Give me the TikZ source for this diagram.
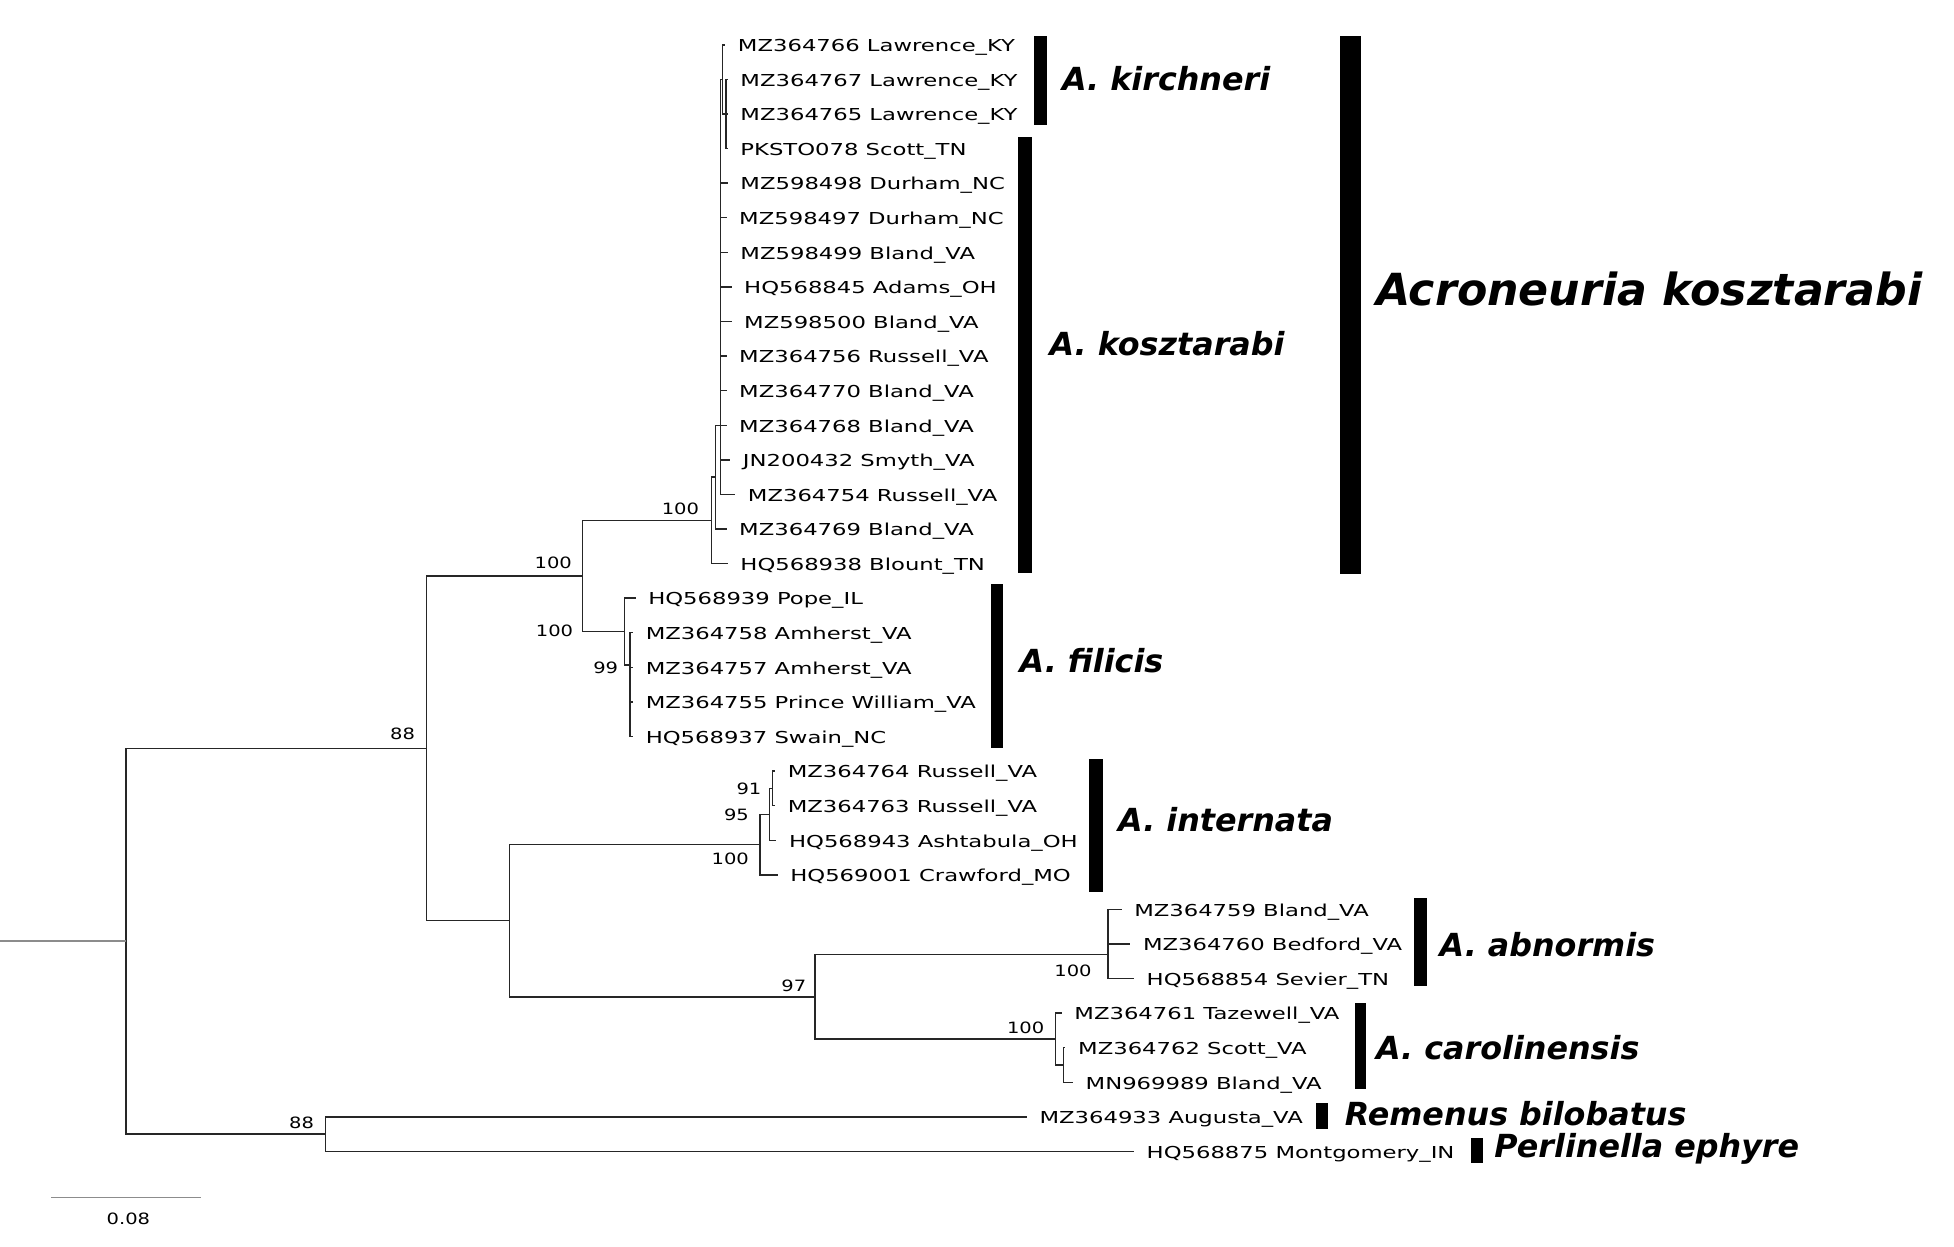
\documentclass[tikz,border=0pt]{standalone}
\usepackage{fontspec}
\setmainfont{DejaVu Sans}
\newfontfamily\leaffont[FakeStretch=1.38]{DejaVu Sans}
\newfontfamily\bootfont[FakeStretch=1.25]{DejaVu Sans}
\begin{document}
\begin{tikzpicture}[x=1pt,y=-1pt,
  branch/.style={draw=black!85,line width=1.1pt},
  greyline/.style={draw=black!45,line width=1.3pt},
  leaf/.style={anchor=west,inner sep=0pt,xshift=10pt,yshift=-2pt,font=\leaffont\fontsize{13.2}{13.2}\selectfont},
  boot/.style={inner sep=0pt,font=\bootfont\fontsize{12.5}{12.5}\selectfont},
  cladebar/.style={fill=black},
  clade/.style={anchor=west,inner sep=0pt,font=\bfseries\itshape\fontsize{25.5}{25.5}\selectfont},
  bigclade/.style={anchor=west,inner sep=0pt,font=\bfseries\itshape\fontsize{35.5}{35.5}\selectfont}]
\useasboundingbox (0,0) rectangle (1568,1000);

% leaves
\foreach \i/\x/\t in {
 0/582/{MZ364766 Lawrence\_KY},
 1/584/{MZ364767 Lawrence\_KY},
 2/584/{MZ364765 Lawrence\_KY},
 3/584/{PKSTO078 Scott\_TN},
 4/584/{MZ598498 Durham\_NC},
 5/583/{MZ598497 Durham\_NC},
 6/584/{MZ598499 Bland\_VA},
 7/587/{HQ568845 Adams\_OH},
 8/587/{MZ598500 Bland\_VA},
 9/583/{MZ364756 Russell\_VA},
 10/583/{MZ364770 Bland\_VA},
 11/583/{MZ364768 Bland\_VA},
 12/586/{JN200432 Smyth\_VA},
 13/590/{MZ364754 Russell\_VA},
 14/583/{MZ364769 Bland\_VA},
 15/584/{HQ568938 Blount\_TN},
 16/510/{HQ568939 Pope\_IL},
 17/508/{MZ364758 Amherst\_VA},
 18/508/{MZ364757 Amherst\_VA},
 19/508/{MZ364755 Prince William\_VA},
 20/508/{HQ568937 Swain\_NC},
 21/622/{MZ364764 Russell\_VA},
 22/622/{MZ364763 Russell\_VA},
 23/623/{HQ568943 Ashtabula\_OH},
 24/624/{HQ569001 Crawford\_MO},
 25/900/{MZ364759 Bland\_VA},
 26/907/{MZ364760 Bedford\_VA},
 27/910/{HQ568854 Sevier\_TN},
 28/852/{MZ364761 Tazewell\_VA},
 29/855/{MZ364762 Scott\_VA},
 30/861/{MN969989 Bland\_VA},
 31/824/{MZ364933 Augusta\_VA},
 32/910/{HQ568875 Montgomery\_IN}}{
  \coordinate (t\i) at (\x,{36+27.75*\i});
  \node[leaf] (l\i) at (t\i) {\t};
}

% internal nodes
\coordinate (kA) at (582.5,91.5);
\coordinate (kB) at (580,63.75);
\coordinate (K3) at (578,341.25);
\coordinate (K2) at (574,382.9);
\coordinate (K1) at (571,417.6);
\coordinate (F99) at (505.5,533.6);
\coordinate (Fil) at (501,506.8);
\coordinate (N467) at (467.6,462.2);
\coordinate (I91) at (620,632.6);
\coordinate (I95) at (617.5,653.4);
\coordinate (I100) at (610,677.7);
\coordinate (Abn) at (889,766);
\coordinate (C99) at (853.5,854.6);
\coordinate (Car) at (847,833.8);
\coordinate (N97) at (654,799.9);
\coordinate (N409) at (409,738.8);
\coordinate (N342) at (342,600.5);
\coordinate (N261) at (261,910.1);
\coordinate (Root) at (101,755.3);
\coordinate (Stub) at (0,755.3);

% branches
\draw[branch] (kA) |- (t1) (kA) |- (t2) (kA) |- (t3);
\draw[branch] (kB) |- (t0) (kB) |- (kA);
\draw[branch] (K3) |- (kB);
\foreach \i in {4,...,13}{\draw[branch] (K3) |- (t\i);}
\draw[branch] (K2) |- (K3) (K2) |- (t14);
\draw[branch] (K1) |- (K2) (K1) |- (t15);
\draw[branch] (F99) |- (t17) (F99) |- (t18) (F99) |- (t19) (F99) |- (t20);
\draw[branch] (Fil) |- (t16) (Fil) |- (F99);
\draw[branch] (N467) |- (K1) (N467) |- (Fil);
\draw[branch] (I91) |- (t21) (I91) |- (t22);
\draw[branch] (I95) |- (I91) (I95) |- (t23);
\draw[branch] (I100) |- (I95) (I100) |- (t24);
\draw[branch] (Abn) |- (t25) (Abn) |- (t26) (Abn) |- (t27);
\draw[branch] (C99) |- (t29) (C99) |- (t30);
\draw[branch] (Car) |- (t28) (Car) |- (C99);
\draw[branch] (N97) |- (Abn) (N97) |- (Car);
\draw[branch] (N409) |- (I100) (N409) |- (N97);
\draw[branch] (N342) |- (N467) (N342) |- (N409);
\draw[branch] (N261) |- (t31) (N261) |- (t32);
\draw[branch] (Root) |- (N342) (Root) |- (N261);
\draw[greyline] (Stub) -- (Root);

% bootstrap values
\node[boot] (b1) at (546,408) {100};
\node[boot] (b2) at (444,452) {100};
\node[boot] (b3) at (445,506) {100};
\node[boot] (b4) at (486,536) {99};
\node[boot] (b5) at (323,589) {88};
\node[boot] (b6) at (601,633) {91};
\node[boot] (b7) at (591,654) {95};
\node[boot] (b8) at (586,689) {100};
\node[boot] (b9) at (861,779) {100};
\node[boot] (b10) at (637,791) {97};
\node[boot] (b11) at (823,825) {100};
\node[boot] (b12) at (242,901) {88};

% clade bars and names
\fill[cladebar] (830,29) rectangle (840,100);
\node[clade] (c1) at (852,63) {A. kirchneri};
\fill[cladebar] (817,110) rectangle (828,460);
\node[clade] (c2) at (842,276) {A. kosztarabi};
\fill[cladebar] (1075,29) rectangle (1092,461);
\node[bigclade] (c3) at (1104,232) {Acroneuria kosztarabi};
\fill[cladebar] (795,469) rectangle (805,600);
\node[clade] (c4) at (818,530) {A. filicis};
\fill[cladebar] (874,609) rectangle (885,716);
\node[clade] (c5) at (897,658) {A. internata};
\fill[cladebar] (1135,721) rectangle (1145,791);
\node[clade] (c6) at (1155,758) {A. abnormis};
\fill[cladebar] (1087,805) rectangle (1096,874);
\node[clade] (c7) at (1104,841) {A. carolinensis};
\fill[cladebar] (1056,885) rectangle (1066,906);
\node[clade] (c8) at (1079,894) {Remenus bilobatus};
\fill[cladebar] (1180,913) rectangle (1190,933);
\node[clade] (c9) at (1199,922) {Perlinella ephyre};

% scale bar
\coordinate (s1) at (41,961);
\coordinate (s2) at (161,961);
\draw[greyline] (s1) -- (s2);
\node[boot] (sl) at (103,978) {0.08};
\end{tikzpicture}
\end{document}
